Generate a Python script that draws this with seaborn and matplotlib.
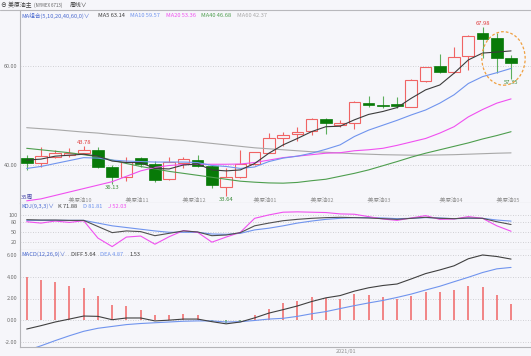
import numpy as np
import pandas as pd
import matplotlib
matplotlib.use('Agg')
import matplotlib.pyplot as plt
from matplotlib.patches import Ellipse, Rectangle
from matplotlib.lines import Line2D
import seaborn as sns

# weekly candles (35 weeks)
opens = [41.26, 40.37, 41.47, 41.87, 42.40, 42.95, 39.55, 37.40, 41.26, 40.04,
         36.98, 40.37, 40.90, 39.75, 35.40, 37.40, 40.10, 42.40, 45.33, 46.20,
         46.80, 49.27, 48.05, 48.40, 52.60, 52.10, 52.26, 51.77, 57.07, 60.06,
         58.90, 62.10, 66.70, 65.70, 61.60]
highs = [41.90, 43.50, 42.95, 43.40, 43.78, 43.60, 39.90, 41.60, 41.60, 40.80,
         41.47, 41.60, 41.90, 39.90, 39.20, 42.95, 42.60, 46.35, 46.70, 47.70,
         49.40, 49.40, 49.06, 52.90, 53.95, 53.95, 53.70, 57.35, 59.90, 62.45,
         63.90, 66.40, 67.98, 66.70, 62.30]
lows = [38.80, 39.55, 41.26, 41.47, 42.28, 39.20, 36.13, 36.70, 39.55, 36.50,
        36.84, 39.20, 39.55, 35.15, 33.64, 37.20, 40.00, 42.28, 43.80, 44.85,
        46.00, 46.15, 47.60, 47.20, 51.65, 51.45, 51.45, 51.65, 56.90, 58.57,
        58.70, 59.25, 61.60, 58.57, 57.35]
closes = [40.37, 41.73, 42.28, 42.28, 42.95, 39.55, 37.40, 40.57, 40.04, 36.84,
          40.45, 41.06, 39.75, 35.80, 37.50, 40.10, 42.50, 45.50, 46.07, 46.56,
          49.27, 48.40, 48.40, 52.80, 52.10, 51.85, 51.90, 57.20, 59.90, 58.90,
          61.83, 66.20, 65.56, 61.60, 60.70]

# moving averages
ma5 = [40.9, 41.1, 41.7, 41.9, 42.1, 41.7, 40.7, 40.4, 40.4, 39.2,
       39.1, 39.9, 40.1, 38.9, 38.7, 38.9, 40.2, 42.3, 44.0, 45.3,
       46.7, 47.7, 47.8, 49.1, 50.2, 50.8, 51.6, 53.5, 55.2, 56.2,
       58.6, 61.3, 62.7, 62.9, 63.14]
ma10 = [39.2, 39.6, 40.2, 40.8, 41.4, 41.3, 40.9, 40.7, 40.6, 40.5,
        40.5, 40.5, 40.4, 39.8, 39.6, 39.2, 39.5, 40.6, 41.3, 41.7,
        42.3, 43.1, 44.0, 45.7, 47.0, 48.0, 49.0, 50.1, 51.1, 52.5,
        54.2, 56.5, 57.9, 58.7, 59.57]
ma20 = [32.6, 33.0, 33.7, 34.4, 35.1, 35.8, 36.5, 37.6, 38.7, 39.4,
        39.8, 40.0, 40.05, 40.05, 40.05, 40.1, 40.4, 40.9, 41.4, 41.7,
        42.0, 42.3, 42.4, 42.8, 43.0, 43.3, 43.9, 44.6, 45.3, 46.4,
        47.7, 49.7, 51.2, 52.5, 53.36]
ma40 = [43.3, 43.0, 42.7, 42.4, 42.0, 41.6, 40.9, 40.2, 39.6, 39.1,
        38.6, 38.2, 37.8, 37.4, 37.0, 36.6, 36.4, 36.25, 36.2, 36.35,
        36.7, 37.0, 37.6, 38.2, 38.9, 39.75, 40.6, 41.5, 42.3, 43.0,
        43.7, 44.4, 45.2, 45.9, 46.68]
ma60 = [47.5, 47.3, 47.1, 46.85, 46.6, 46.4, 46.1, 45.9, 45.6, 45.4,
        45.1, 44.9, 44.6, 44.3, 44.0, 43.7, 43.4, 43.2, 43.0, 42.8,
        42.6, 42.5, 42.35, 42.2, 42.1, 42.0, 41.95, 41.9, 41.9, 41.95,
        42.0, 42.1, 42.2, 42.3, 42.37]

# KDJ(9,3,3)
k_line = [86, 85, 85, 84, 84, 66, 48, 53, 51, 39,
          46, 53, 50, 39, 41, 48, 68, 76, 83, 87,
          90, 92, 93, 92, 91, 89, 87, 90, 93, 90,
          89, 91, 90, 80, 71.88]
d_line = [84, 84, 84, 84, 84, 76, 68, 63, 58, 53,
          49, 49, 49, 44, 43, 46, 56, 61, 68, 76,
          82, 87, 90, 92, 92, 91, 89, 90, 92, 91,
          89, 90, 90, 85, 81.81]
j_line = [80, 76, 82, 78, 83, 32, 7, 35, 38, 14,
          36, 54, 49, 20, 35, 49, 90, 100, 108, 109,
          108, 107, 103, 102, 95, 88, 84, 91, 98, 87,
          88, 95, 90, 68, 52.03]

# MACD(12,26,9)
diff = [-0.82, -0.51, -0.17, 0.10, 0.38, 0.35, 0.04, 0.20, 0.20, -0.07,
        0.00, 0.10, 0.10, -0.14, -0.34, -0.17, 0.21, 0.65, 0.97, 1.31,
        1.72, 2.06, 2.27, 2.68, 2.99, 3.20, 3.34, 3.81, 4.30, 4.64,
        5.02, 5.67, 6.02, 5.88, 5.64]
dea = [-2.81, -2.37, -1.89, -1.44, -1.03, -0.75, -0.58, -0.41, -0.31, -0.24,
       -0.17, -0.10, -0.07, -0.07, -0.17, -0.14, -0.03, 0.10, 0.17, 0.35,
       0.59, 0.79, 1.07, 1.34, 1.59, 1.82, 2.10, 2.41, 2.78, 3.13,
       3.55, 3.96, 4.40, 4.74, 4.87]
hist = [3.99, 3.71, 3.50, 3.20, 2.96, 2.24, 1.41, 1.31, 0.97, 0.45,
        0.50, 0.59, 0.45, -0.05, -0.24, -0.10, 0.45, 1.07, 1.55, 1.76,
        2.10, 2.06, 2.00, 2.41, 2.34, 2.10, 1.93, 2.27, 2.62, 2.58,
        2.75, 3.16, 3.09, 2.34, 1.53]

month_start = [3, 7, 11, 16, 20, 24, 29, 33]
month_labels = ['美原油10', '美原油11', '美原油12', '美原油01',
                '美原油02', '美原油03', '美原油04', '美原油05']

BG = '#f6f6fa'
RED = '#f06464'
DKGREEN = '#087a08'
LTGREEN = '#5cae5c'
C_MA5 = '#3c3c3c'
C_MA10 = '#7094ee'
C_MA20 = '#f050f0'
C_MA40 = '#4e9e4e'
C_MA60 = '#a8a8a8'
TXT = '#707070'
BLUE_T = '#4a6ad0'

sns.set_theme(style='white')
plt.rcParams['font.family'] = ['Noto Sans CJK SC', 'DejaVu Sans']
plt.rcParams['axes.unicode_minus'] = False

W, H = 531, 356
fig = plt.figure(figsize=(W / 100, H / 100), dpi=100, facecolor=BG)


def box(top, bottom):
    return [20 / W, 1 - bottom / H, (W - 20) / W, (bottom - top) / H]


ax = fig.add_axes(box(10, 203))
ax_kdj = fig.add_axes(box(203, 250), sharex=ax)
ax_macd = fig.add_axes(box(250, 347), sharex=ax)

idx = np.arange(len(closes))
df = pd.DataFrame(dict(i=idx, o=opens, h=highs, l=lows, c=closes))

# candles
bw = 0.82
for r in df.itertuples():
    if r.c >= r.o:
        ax.vlines(r.i, r.l, r.h, color=RED, lw=0.8, zorder=3)
        ax.add_patch(Rectangle((r.i - bw / 2, r.o), bw, max(r.c - r.o, 0.08),
                               facecolor=BG, edgecolor=RED, lw=0.8, zorder=4))
    else:
        ax.vlines(r.i, r.l, r.h, color=LTGREEN, lw=0.8, zorder=3)
        ax.add_patch(Rectangle((r.i - bw / 2, r.c), bw, r.o - r.c,
                               facecolor=DKGREEN, edgecolor=DKGREEN, lw=0.5, zorder=4))

for vals, col in [(ma60, C_MA60), (ma40, C_MA40), (ma20, C_MA20), (ma10, C_MA10), (ma5, C_MA5)]:
    sns.lineplot(x=idx, y=vals, ax=ax, color=col, lw=0.8, zorder=5)

# extreme labels
ax.annotate('43.78', (4, highs[4]), xytext=(0, 0.8), textcoords='offset points',
            ha='center', va='bottom', fontsize=4.2, color='#e03c3c')
ax.annotate('67.98', (32, highs[32]), xytext=(0, 0.8), textcoords='offset points',
            ha='center', va='bottom', fontsize=4.2, color='#e03c3c')
ax.annotate('36.13', (6, lows[6]), xytext=(0, -0.8), textcoords='offset points',
            ha='center', va='top', fontsize=4.2, color='#3c8c3c')
ax.annotate('33.64', (14, lows[14]), xytext=(0, -0.8), textcoords='offset points',
            ha='center', va='top', fontsize=4.2, color='#3c8c3c')
ax.annotate('57.35', (34, lows[34]), xytext=(0, -0.8), textcoords='offset points',
            ha='center', va='top', fontsize=4.2, color='#3c8c3c')

ax.add_patch(Ellipse((33.47, 61.6), 3.04, 10.9, fill=False, ec='#f0a040',
                     lw=0.9, ls=(0, (2.2, 1.6)), zorder=6))

# month labels along the bottom of the price panel
for pos, lab in zip(month_start, month_labels):
    ax.text(pos - 0.1, 0.018, '-' + lab, transform=ax.get_xaxis_transform(),
            ha='left', va='center', fontsize=4, color='#909090')
ax.text(0.002, 0.03, '35周', transform=ax.transAxes, ha='left', va='center',
        fontsize=4.2, color='#4848a8')

# KDJ
for vals, col in [(d_line, C_MA10), (j_line, C_MA20), (k_line, '#505050')]:
    sns.lineplot(x=idx, y=vals, ax=ax_kdj, color=col, lw=0.8)

# MACD
ax_macd.vlines(idx, 0, hist, colors=[RED if v >= 0 else LTGREEN for v in hist], lw=1.1)
sns.lineplot(x=idx, y=dea, ax=ax_macd, color=C_MA10, lw=0.8)
sns.lineplot(x=idx, y=diff, ax=ax_macd, color='#404040', lw=0.8)

ax.set_ylim(32.16, 71.47)
ax.set_yticks([40, 60])
ax.set_yticklabels(['40.00', '60.00'])
ax_kdj.set_ylim(-3, 135)
ax_kdj.set_yticks([20, 50, 80, 100])
ax_kdj.set_yticklabels(['20', '50', '80', '100'])
ax_macd.set_ylim(-2.48, 6.48)
ax_macd.set_yticks([-2, 0, 2, 4, 6])
ax_macd.set_yticklabels(['-2.00', '0.00', '2.00', '4.00', '6.00'])
ax.set_xlim(-0.47, 35.4)

for a in (ax, ax_kdj, ax_macd):
    a.set_facecolor(BG)
    a.set_xlabel('')
    a.set_ylabel('')
    a.yaxis.grid(True, ls=(0, (1, 2)), color='#c4c4c8', lw=0.6)
    a.xaxis.grid(False)
    a.tick_params(axis='y', length=0, labelsize=4, labelcolor=TXT, pad=2)
    a.tick_params(axis='x', bottom=False, labelbottom=False)
    for s in ('top', 'right'):
        a.spines[s].set_visible(False)
    for s in ('left', 'bottom'):
        a.spines[s].set_color('#b4b4b8')
        a.spines[s].set_linewidth(0.8)


def ftext(px, py, s, col, size=4.1):
    fig.text(px / W, 1 - py / H, s, fontsize=size, color=col, ha='left', va='center')


# header
fig.add_artist(Line2D([0, 1], [1 - 10 / H] * 2, color='#b8b8bc', lw=0.8))
ftext(1, 5.5, '⊖ 美原油主', '#404040', 4.2)
ftext(34, 5.5, '(NYMEX 6713)', '#606060', 3.2)
ftext(70, 5.5, '周线∨', '#404040', 4.2)

# legends
ftext(21, 15.5, 'MA组合(5,10,20,40,60,0)∨', BLUE_T)
ftext(98, 15.5, 'MA5 63.14', C_MA5)
ftext(130, 15.5, 'MA10 59.57', C_MA10)
ftext(166, 15.5, 'MA20 53.36', C_MA20)
ftext(201, 15.5, 'MA40 46.68', C_MA40)
ftext(237, 15.5, 'MA60 42.37', C_MA60)

ftext(21, 206.5, 'KDJ(9,3,3)∨', BLUE_T)
ftext(58, 206.5, 'K 71.88', '#404040')
ftext(83, 206.5, 'D 81.81', C_MA10)
ftext(108, 206.5, 'J 52.03', C_MA20)

ftext(21, 254.5, 'MACD(12,26,9)∨', BLUE_T)
ftext(71, 254.5, 'DIFF 5.64', '#404040')
ftext(100, 254.5, 'DEA 4.87', C_MA10)
ftext(130, 254.5, '1.53', '#404040')

ftext(336, 351.5, '2021/01', '#909090', 4)

fig.savefig('out.png', dpi=100, facecolor=BG)
